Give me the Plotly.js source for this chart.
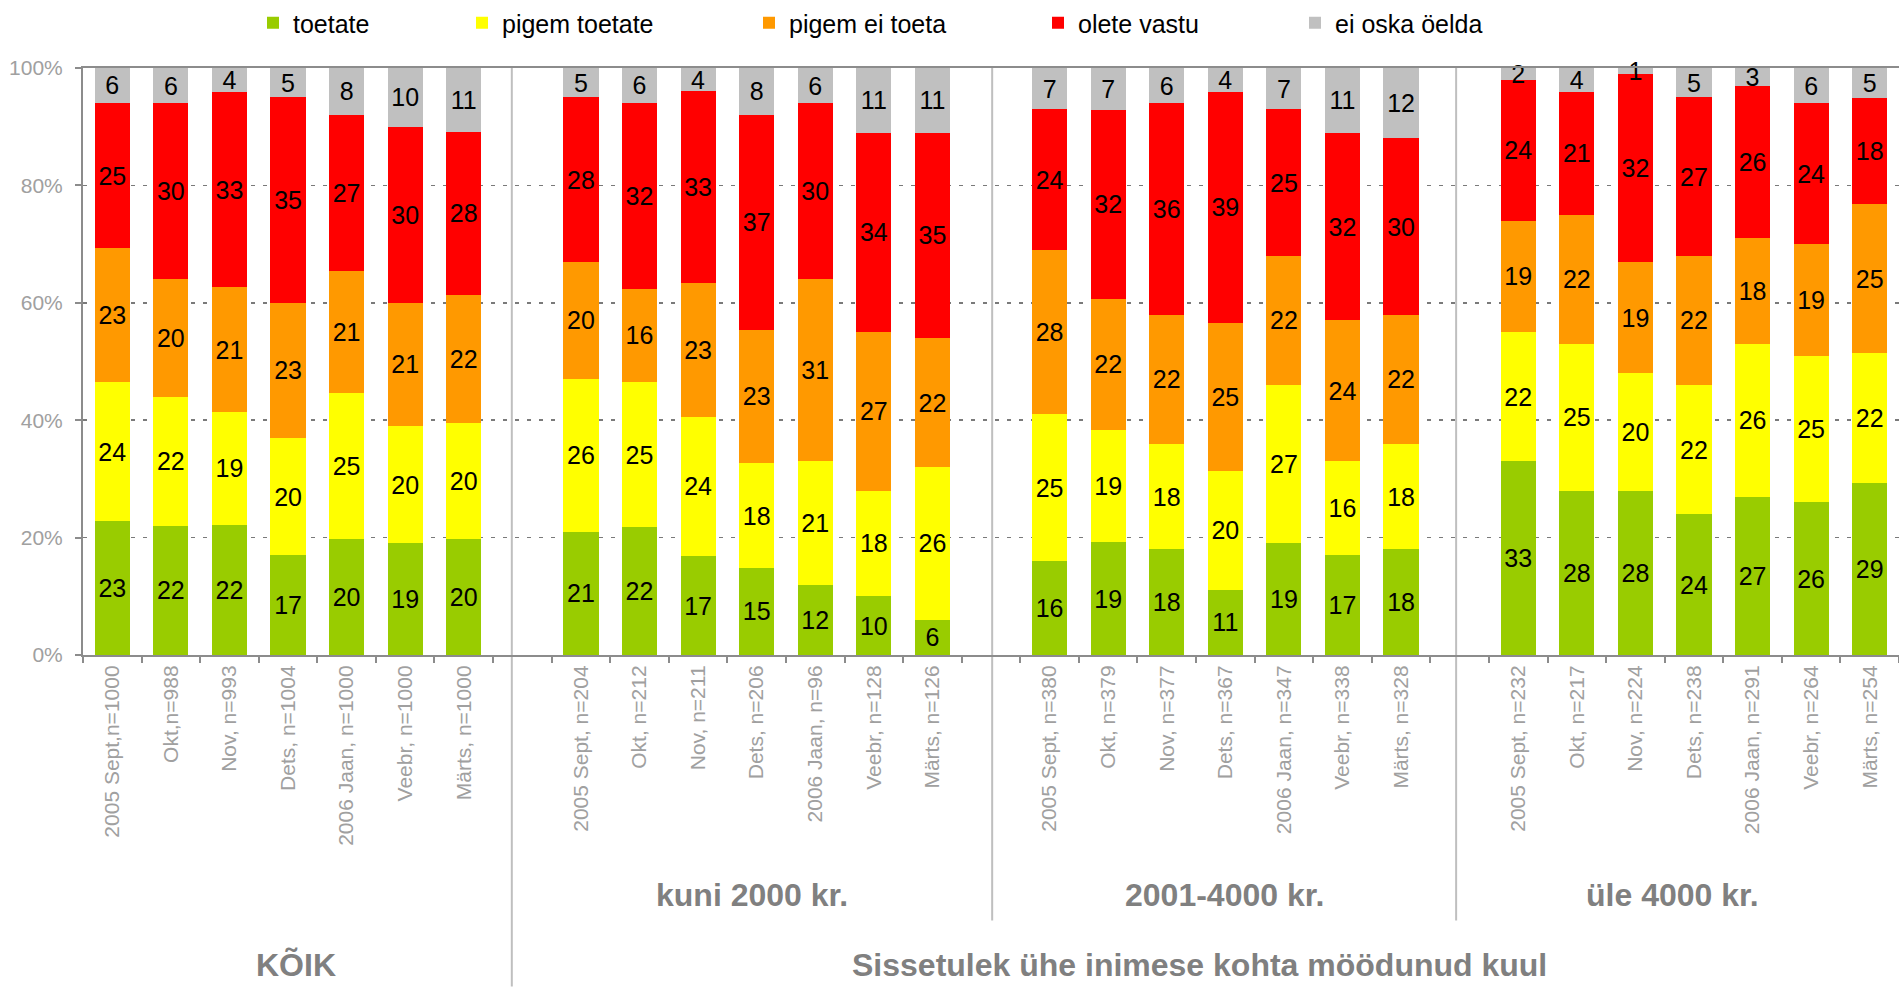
<!DOCTYPE html>
<html>
<head>
<meta charset="utf-8">
<script src="https://cdn.plot.ly/plotly-3.0.1.min.js"></script>
<style>
html,body{margin:0;padding:0;background:#ffffff;}
#chart{width:1899px;height:987px;}
</style>
</head>
<body>
<div id="chart"></div>
<script>
// ---- data ----
const seriesNames = ['toetate', 'pigem toetate', 'pigem ei toeta', 'olete vastu', 'ei oska öelda'];
const seriesColors = ['#99cc00', '#ffff00', '#ff9900', '#ff0000', '#c0c0c0'];

const groupTitles = ['KÕIK', 'kuni 2000 kr.', '2001-4000 kr.', 'üle 4000 kr.'];
const bottomTitle = 'Sissetulek ühe inimese kohta möödunud kuul';

const groupKoik = ['2005 Sept,n=1000', 'Okt,n=988', 'Nov, n=993', 'Dets, n=1004', '2006 Jaan, n=1000', 'Veebr, n=1000', 'Märts, n=1000'];
const groupKuni2000 = ['2005 Sept, n=204', 'Okt, n=212', 'Nov, n=211', 'Dets, n=206', '2006 Jaan, n=96', 'Veebr, n=128', 'Märts, n=126'];
const group2001_4000 = ['2005 Sept, n=380', 'Okt, n=379', 'Nov, n=377', 'Dets, n=367', '2006 Jaan, n=347', 'Veebr, n=338', 'Märts, n=328'];
const groupUle4000 = ['2005 Sept, n=232', 'Okt, n=217', 'Nov, n=224', 'Dets, n=238', '2006 Jaan, n=291', 'Veebr, n=264', 'Märts, n=254'];

const toetate        = [23,22,22,17,20,19,20, 21,22,17,15,12,10,6,  16,19,18,11,19,17,18, 33,28,28,24,27,26,29];
const pigemToetate   = [24,22,19,20,25,20,20, 26,25,24,18,21,18,26, 25,19,18,20,27,16,18, 22,25,20,22,26,25,22];
const pigemEiToeta   = [23,20,21,23,21,21,22, 20,16,23,23,31,27,22, 28,22,22,25,22,24,22, 19,22,19,22,18,19,25];
const oleteVastu     = [25,30,33,35,27,30,28, 28,32,33,37,30,34,35, 24,32,36,39,25,32,30, 24,21,32,27,26,24,18];
const eiOskaOelda    = [6,6,4,5,8,10,11,      5,6,4,8,6,11,11,      7,7,6,4,7,11,12,      2,4,1,5,3,6,5];

const yTickVals = [0, 20, 40, 60, 80, 100];
const yTickText = ['0%', '20%', '40%', '60%', '80%', '100%'];

// ---- build ----
const categories = [].concat(groupKoik, groupKuni2000, group2001_4000, groupUle4000);
const gapA = '\u00a0', gapB = '\u00a0\u00a0', gapC = '\u00a0\u00a0\u00a0';
const axisCategories = [].concat(groupKoik, [gapA], groupKuni2000, [gapB], group2001_4000, [gapC], groupUle4000);

const allSeries = [toetate, pigemToetate, pigemEiToeta, oleteVastu, eiOskaOelda];
const legendIds = ['legend', 'legend2', 'legend3', 'legend4', 'legend5'];
const FONT = 'Arial, "Liberation Sans", sans-serif';

const traces = allSeries.map((vals, i) => ({
  type: 'bar',
  name: seriesNames[i],
  x: categories,
  y: vals,
  text: vals.map(String),
  textposition: 'inside',
  insidetextanchor: 'middle',
  textangle: 0,
  constraintext: 'none',
  cliponaxis: false,
  textfont: {size: 25, color: '#000000', family: FONT},
  insidetextfont: {size: 25, color: '#000000', family: FONT},
  marker: {color: seriesColors[i], line: {width: 0}},
  legend: legendIds[i],
  hoverinfo: 'skip'
}));

// plot area geometry (pixels) used for positioning decorations
const L = 83, W = 1816, T = 67, H = 588;
const px2x = p => (p - L) / W;
const px2y = p => (T + H - p) / H;

const legendTextStart = [293, 502, 789, 1078, 1335];
const legendBase = {
  orientation: 'h', xanchor: 'left', yanchor: 'middle',
  y: px2y(22), bgcolor: 'rgba(0,0,0,0)', borderwidth: 0,
  font: {size: 25, color: '#000000', family: FONT},
  itemclick: false, itemdoubleclick: false
};

const layout = {
  width: 1899, height: 987,
  margin: {l: L, r: 0, t: T, b: 987 - T - H, pad: 0},
  paper_bgcolor: '#ffffff', plot_bgcolor: '#ffffff',
  font: {family: FONT, color: '#000000'},
  barmode: 'stack', barnorm: 'percent', bargap: 0.4,
  showlegend: true,
  xaxis: {
    type: 'category', categoryorder: 'array', categoryarray: axisCategories,
    range: [-0.5, axisCategories.length - 0.5],
    tickson: 'boundaries', ticks: 'outside', ticklen: 6, tickwidth: 2, tickcolor: '#8c8c8c',
    tickangle: -90, tickfont: {size: 21, color: '#a0a0a0'},
    showline: true, linecolor: '#8c8c8c', linewidth: 2, mirror: true,
    showgrid: false, zeroline: false, automargin: false, fixedrange: true
  },
  yaxis: {
    range: [0, 100.01], tickvals: yTickVals, ticktext: yTickText,
    ticks: 'outside', ticklen: 6, tickwidth: 2, tickcolor: '#8c8c8c',
    ticklabelstandoff: 8,
    tickfont: {size: 21, color: '#a0a0a0'},
    showline: true, linecolor: '#8c8c8c', linewidth: 2,
    showgrid: true, gridcolor: '#7a7a7a', gridwidth: 1.6, griddash: '4px,8px',
    zeroline: false, automargin: false, fixedrange: true
  },
  shapes: [
    {type: 'line', xref: 'x', yref: 'paper', x0: 6.82, x1: 6.82, y0: 1, y1: px2y(987), line: {color: '#bfbfbf', width: 2}, layer: 'below'},
    {type: 'line', xref: 'x', yref: 'paper', x0: 15.02, x1: 15.02, y0: 1, y1: px2y(921), line: {color: '#bfbfbf', width: 2}, layer: 'below'},
    {type: 'line', xref: 'x', yref: 'paper', x0: 22.94, x1: 22.94, y0: 1, y1: px2y(921), line: {color: '#bfbfbf', width: 2}, layer: 'below'}
  ],
  annotations: [
    {text: groupTitles[0], x: px2x(296), y: px2y(986), yanchor: 'bottom'},
    {text: groupTitles[1], x: px2x(752), y: px2y(895), yanchor: 'middle'},
    {text: groupTitles[2], x: px2x(1224), y: px2y(895), yanchor: 'middle'},
    {text: groupTitles[3], x: px2x(1672), y: px2y(895), yanchor: 'middle'},
    {text: bottomTitle, x: px2x(1199), y: px2y(986), yanchor: 'bottom'}
  ].map(a => Object.assign(a, {
    xref: 'paper', yref: 'paper', showarrow: false, xanchor: 'center',
    font: {size: 32, color: '#808080', weight: 'bold', family: FONT}
  }))
};

legendIds.forEach((id, i) => {
  layout[id] = Object.assign({}, legendBase, {x: px2x(legendTextStart[i] - 40)});
});

Plotly.newPlot('chart', traces, layout, {staticPlot: true, displayModeBar: false, responsive: false});
</script>
</body>
</html>
